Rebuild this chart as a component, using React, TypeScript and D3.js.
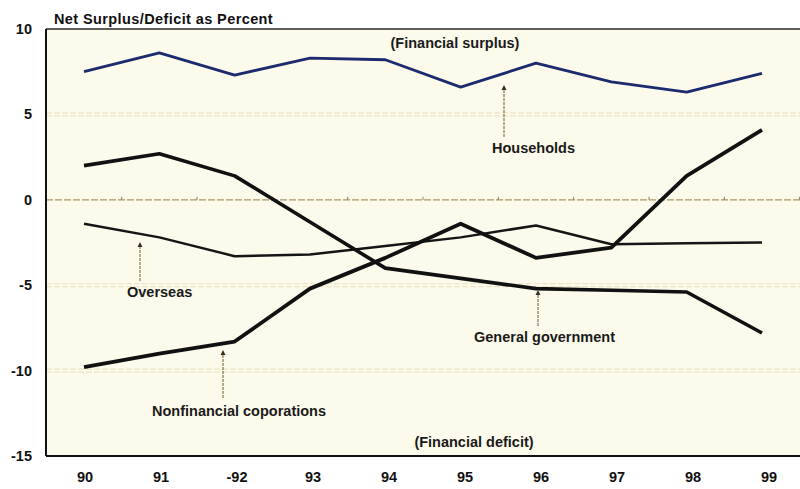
import { useEffect, useRef } from "react"
import * as d3 from "d3"

const years = ["90", "91", "92", "93", "94", "95", "96", "97", "98", "99"]
const yearLabels = ["90", "91", "-92", "93", "94", "95", "96", "97", "98", "99"]
const households = [7.5, 8.6, 7.3, 8.3, 8.2, 6.6, 8.0, 6.9, 6.3, 7.4]
const generalGovernment = [2.0, 2.7, 1.4, -1.3, -4.0, -4.6, -5.2, -5.3, -5.4, -7.8]
const nonfinancialCorporations = [-9.8, -9.0, -8.3, -5.2, -3.4, -1.4, -3.4, -2.8, 1.4, 4.1]
const overseas = [-1.4, -2.2, -3.3, -3.2, -2.7, -2.2, -1.5, -2.6, -2.55, -2.5]
const yTicks = [10, 5, 0, -5, -10, -15]

export default function App() {
  const svgRef = useRef<SVGSVGElement>(null)

  useEffect(() => {
    if (!svgRef.current) return
    d3.select(svgRef.current).selectAll("*").remove()

    const width = 800
    const height = 489
    const margin = { top: 29, right: 0, bottom: 33, left: 46 }
    const font = "'Liberation Sans', Arial, sans-serif"

    const svg = d3.select(svgRef.current).attr("width", width).attr("height", height)

    const x = d3.scalePoint<string>().domain(years).range([84, 762])
    const xLabel = d3.scalePoint<string>().domain(years).range([85, 769])
    const y = d3.scaleLinear().domain([-15, 10]).range([height - margin.bottom, margin.top])

    // Plot background
    svg
      .append("rect")
      .attr("x", margin.left)
      .attr("y", margin.top)
      .attr("width", width - margin.left)
      .attr("height", y(-15) - margin.top)
      .attr("fill", "#fcfaea")

    // Faint grid lines
    ;[5, -5, -10].forEach((v) => {
      ;[-1.5, 1.5].forEach((off) => {
        svg
          .append("line")
          .attr("x1", margin.left)
          .attr("x2", width)
          .attr("y1", y(v) + off)
          .attr("y2", y(v) + off)
          .attr("stroke", "#e8dfbd")
          .attr("stroke-width", 1)
          .attr("stroke-dasharray", "6,2")
      })
    })

    // Zero line with small ticks between years
    svg
      .append("line")
      .attr("x1", margin.left)
      .attr("x2", width)
      .attr("y1", y(0))
      .attr("y2", y(0))
      .attr("stroke", "#a8986a")
      .attr("stroke-width", 1.2)
      .attr("stroke-dasharray", "7,2")
    const step = x.step()
    years.forEach((yr) => {
      const mx = (x(yr) as number) + step / 2
      if (mx > width) return
      svg
        .append("line")
        .attr("x1", mx)
        .attr("x2", mx)
        .attr("y1", y(0))
        .attr("y2", y(0) - 3)
        .attr("stroke", "#8a7a4c")
        .attr("stroke-width", 1)
    })

    // Frame
    svg
      .append("line")
      .attr("x1", margin.left)
      .attr("x2", width)
      .attr("y1", margin.top)
      .attr("y2", margin.top)
      .attr("stroke", "#2a2a22")
      .attr("stroke-width", 1.5)
    svg
      .append("line")
      .attr("x1", margin.left)
      .attr("x2", width)
      .attr("y1", y(-15))
      .attr("y2", y(-15))
      .attr("stroke", "#111")
      .attr("stroke-width", 2)
    svg
      .append("line")
      .attr("x1", margin.left)
      .attr("x2", margin.left)
      .attr("y1", margin.top)
      .attr("y2", y(-15))
      .attr("stroke", "#111")
      .attr("stroke-width", 2)

    // Y tick labels
    svg
      .selectAll(".ytick")
      .data(yTicks)
      .enter()
      .append("text")
      .attr("x", 32)
      .attr("y", (d) => y(d) + 5)
      .attr("text-anchor", "end")
      .attr("font-family", font)
      .attr("font-weight", "bold")
      .attr("font-size", "14.5px")
      .attr("fill", "#111")
      .text((d) => (d < 0 ? `-${-d}` : `${d}`))

    // X tick labels
    svg
      .selectAll(".xtick")
      .data(years)
      .enter()
      .append("text")
      .attr("x", (d) => xLabel(d) as number)
      .attr("y", 482)
      .attr("text-anchor", "middle")
      .attr("font-family", font)
      .attr("font-weight", "bold")
      .attr("font-size", "14.5px")
      .attr("fill", "#111")
      .text((d, i) => yearLabels[i])

    // Lines
    const line = d3
      .line<number>()
      .x((d, i) => x(years[i]) as number)
      .y((d) => y(d))

    const series = [
      { values: overseas, color: "#151515", width: 2.5 },
      { values: generalGovernment, color: "#111", width: 3.6 },
      { values: nonfinancialCorporations, color: "#111", width: 3.8 },
      { values: households, color: "#1c2a6e", width: 2.8 },
    ]
    series.forEach((s) => {
      svg
        .append("path")
        .datum(s.values)
        .attr("fill", "none")
        .attr("stroke", s.color)
        .attr("stroke-width", s.width)
        .attr("stroke-linejoin", "round")
        .attr("d", line)
    })

    // Annotations
    const label = (tx: number, ty: number, text: string, anchor = "start") =>
      svg
        .append("text")
        .attr("x", tx)
        .attr("y", ty)
        .attr("text-anchor", anchor)
        .attr("font-family", font)
        .attr("font-weight", "bold")
        .attr("font-size", "14.5px")
        .attr("fill", "#1a1a1a")
        .text(text)

    const arrow = (ax: number, y1: number, y2: number) => {
      svg
        .append("line")
        .attr("x1", ax)
        .attr("x2", ax)
        .attr("y1", y1)
        .attr("y2", y2 + 4)
        .attr("stroke", "#6b5a2a")
        .attr("stroke-width", 1)
        .attr("stroke-dasharray", "3,1")
      svg
        .append("path")
        .attr("d", `M${ax - 2.5},${y2 + 5} L${ax},${y2} L${ax + 2.5},${y2 + 5} Z`)
        .attr("fill", "#3a3020")
    }

    svg
      .append("text")
      .attr("x", 54)
      .attr("y", 24)
      .attr("font-family", font)
      .attr("font-weight", "bold")
      .attr("font-size", "14.5px")
      .attr("letter-spacing", "0.4px")
      .attr("fill", "#111")
      .text("Net Surplus/Deficit as Percent")

    label(455, 48, "(Financial surplus)", "middle")
    label(474, 447, "(Financial deficit)", "middle")

    label(492, 153, "Households")
    arrow(504, 137, 85)

    label(127, 297, "Overseas")
    arrow(140, 281, 242)

    label(474, 342, "General government")
    arrow(538, 326, 290)

    label(152, 416, "Nonfinancial coporations")
    arrow(223, 398, 350)
  }, [])

  return <svg ref={svgRef} style={{ position: "absolute", left: 0, top: 0 }} />
}
